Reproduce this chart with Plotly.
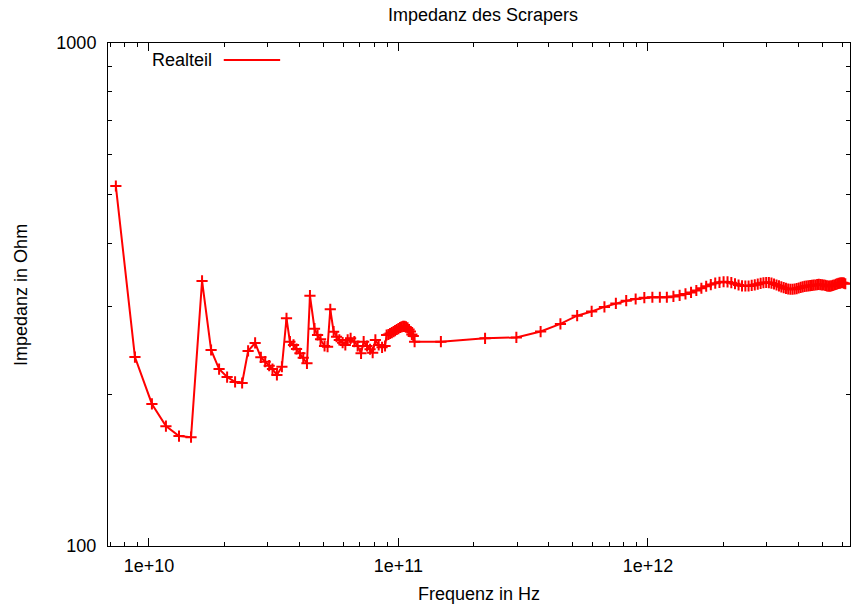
import plotly.graph_objects as go

# Realteil der Impedanz, Frequenzen in GHz
freq_low_ghz = [7.37, 8.79, 10.28, 11.70, 13.20, 14.75, 16.33, 17.75, 19.11, 20.58,
                22.15, 23.64, 24.98, 26.65, 28.1, 29.24, 30.34, 31.28, 32.58, 34.12,
                35.6, 36.74, 37.98, 39.05, 40.3, 41.55, 43.0, 44.2, 46.1, 47.42,
                48.75, 50.58, 52.0, 53.33, 55.0, 56.5, 57.96, 59.76, 61.27, 62.6,
                64.33, 66.6, 68.64, 70.84, 72.56, 74.87, 76.98, 78.85, 80.85, 83.35,
                86.0, 88.4, 89.7]
z_low = [519.6, 237.5, 191.6, 173.1, 165.4, 164.6, 336.5, 245.3, 224.8, 216.7,
         211.9, 210.9, 244.2, 253.3, 237.2, 232.5, 228.3, 224.8, 218.8, 227.2,
         283.6, 254.8, 251.0, 246.4, 241.6, 236.8, 230.8, 314.5, 270.4, 262.7,
         257.6, 249.8, 249.0, 295.5, 266.7, 260.7, 256.8, 253.6, 251.0, 256.8,
         258.8, 254.8, 249.8, 241.6, 254.8, 249.8, 246.1, 242.3, 256.8, 251.0,
         248.3, 249.8, 262.7]

freq_mid_ghz = [91.2, 92.6, 94.1, 95.6, 97.0, 98.5, 100.0, 101.5, 102.9, 104.4,
                105.9, 107.3, 108.8, 110.3, 111.7, 113.2, 114.7, 116.1]
z_mid = [263.3, 264.5, 265.7, 266.9, 268.1, 269.4, 270.6, 271.9, 272.6, 273.2,
         273.2, 272.6, 271.4, 269.4, 266.9, 263.3, 261.6, 254.8]

freq_high_ghz = [148, 222.5, 297, 371.5, 446, 520.5, 595, 669.5, 744, 818.5,
                 893, 967.5, 1042, 1116.5, 1191, 1265.5, 1340, 1414.5, 1489, 1563.5,
                 1638, 1712.5, 1787, 1861.5, 1936, 2010.5, 2085, 2159.5, 2234, 2308.5,
                 2383, 2457.5, 2532, 2606.5, 2681, 2755.5, 2830, 2904.5, 2979, 3053.5,
                 3128, 3202.5, 3277, 3351.5, 3426, 3500.5, 3575, 3649.5, 3724, 3798.5,
                 3873, 3947.5, 4022, 4096.5, 4171, 4245.5, 4320, 4394.5, 4469, 4543.5,
                 4618, 4692.5, 4767, 4841.5, 4916, 4990.5, 5065, 5139.5, 5214, 5288.5,
                 5363, 5437.5, 5512, 5586.5, 5661, 5735.5, 5810, 5884.5, 5959, 6033.5,
                 6108, 6182.5]
z_high = [254.8, 258.8, 259.8, 266.9, 276.4, 287.0, 292.6, 298.8, 303.5, 307.4,
          309.8, 311.6, 312.3, 312.3, 312.3, 313.4, 315.0, 317.0, 319.2, 322.1,
          325.4, 328.4, 330.9, 333.1, 334.4, 335.2, 334.9, 333.8, 332.2, 330.3,
          329.1, 328.8, 328.8, 329.7, 330.6, 331.5, 332.9, 333.7, 334.1, 334.0,
          333.2, 331.8, 330.3, 329.1, 327.6, 326.3, 325.1, 324.3, 323.9, 323.9,
          324.3, 324.9, 325.8, 326.7, 327.4, 328.1, 328.7, 329.1, 329.4, 329.7,
          330.0, 330.3, 330.8, 331.1, 330.9, 330.6, 330.3, 329.7, 329.1, 328.5,
          328.5, 328.9, 329.6, 330.3, 331.2, 332.0, 332.6, 333.2, 333.7, 333.7,
          333.1, 332.2]

x_tick_vals = [1e10, 1e11, 1e12]
x_tick_text = ["1e+10", "1e+11", "1e+12"]
y_tick_vals = [100, 1000]
y_tick_text = ["100", "1000"]

freq_hz = [f * 1e9 for f in freq_low_ghz + freq_mid_ghz + freq_high_ghz]
impedance = z_low + z_mid + z_high

FONT = "Liberation Sans, Arial, Helvetica, sans-serif"
RED = "#ff0000"

fig = go.Figure()
fig.add_trace(go.Scatter(
    x=freq_hz, y=impedance, name="Realteil", mode="lines+markers",
    line=dict(color=RED, width=2),
    marker=dict(symbol="cross-thin", size=8, color=RED,
                line=dict(color=RED, width=2)),
    showlegend=False,
))

x_minor = [m * 10 ** e for e in range(9, 13) for m in range(2, 10)]
y_minor = [m * 100 for m in range(2, 10)]

axis_common = dict(
    type="log", showgrid=False, zeroline=False,
    showline=True, linecolor="black", linewidth=1, mirror="allticks",
    ticks="inside", ticklen=8, tickwidth=1, tickcolor="black",
    tickfont=dict(family=FONT, size=18, color="black"),
)

fig.update_xaxes(
    **axis_common,
    range=[9.836, 12.81],
    tickvals=x_tick_vals, ticktext=x_tick_text,
    ticklabelstandoff=3,
    minor=dict(tickvals=x_minor, ticks="inside", ticklen=4, tickcolor="black",
               showgrid=False),
)
fig.update_yaxes(
    **axis_common,
    range=[2, 3],
    tickvals=y_tick_vals, ticktext=y_tick_text,
    ticklabelstandoff=7,
    minor=dict(tickvals=y_minor, ticks="inside", ticklen=4, tickcolor="black",
               showgrid=False),
)

fig.update_layout(
    width=852, height=608,
    margin=dict(l=108, r=2, t=43, b=62),
    paper_bgcolor="white", plot_bgcolor="white",
    font=dict(family=FONT, size=18, color="black"),
    title=dict(text="Impedanz des Scrapers", x=0.567, xanchor="center",
               y=1 - 15 / 608, yanchor="middle", yref="container",
               font=dict(family=FONT, size=18, color="black")),
    annotations=[
        dict(text="Frequenz in Hz", xref="paper", yref="paper",
             x=0.5, y=-0.095, xanchor="center", yanchor="middle",
             showarrow=False, font=dict(family=FONT, size=18)),
        dict(text="Impedanz in Ohm", xref="paper", yref="paper",
             x=-0.118, y=0.5, xanchor="center", yanchor="middle",
             textangle=-90, showarrow=False, font=dict(family=FONT, size=18)),
        dict(text="Realteil", xref="paper", yref="paper",
             x=0.143, y=0.966, xanchor="right", yanchor="middle",
             showarrow=False, font=dict(family=FONT, size=18)),
    ],
    shapes=[
        dict(type="line", xref="paper", yref="paper",
             x0=0.156, x1=0.232, y0=0.966, y1=0.966,
             line=dict(color=RED, width=2)),
    ],
)

fig.write_html("out.html")
